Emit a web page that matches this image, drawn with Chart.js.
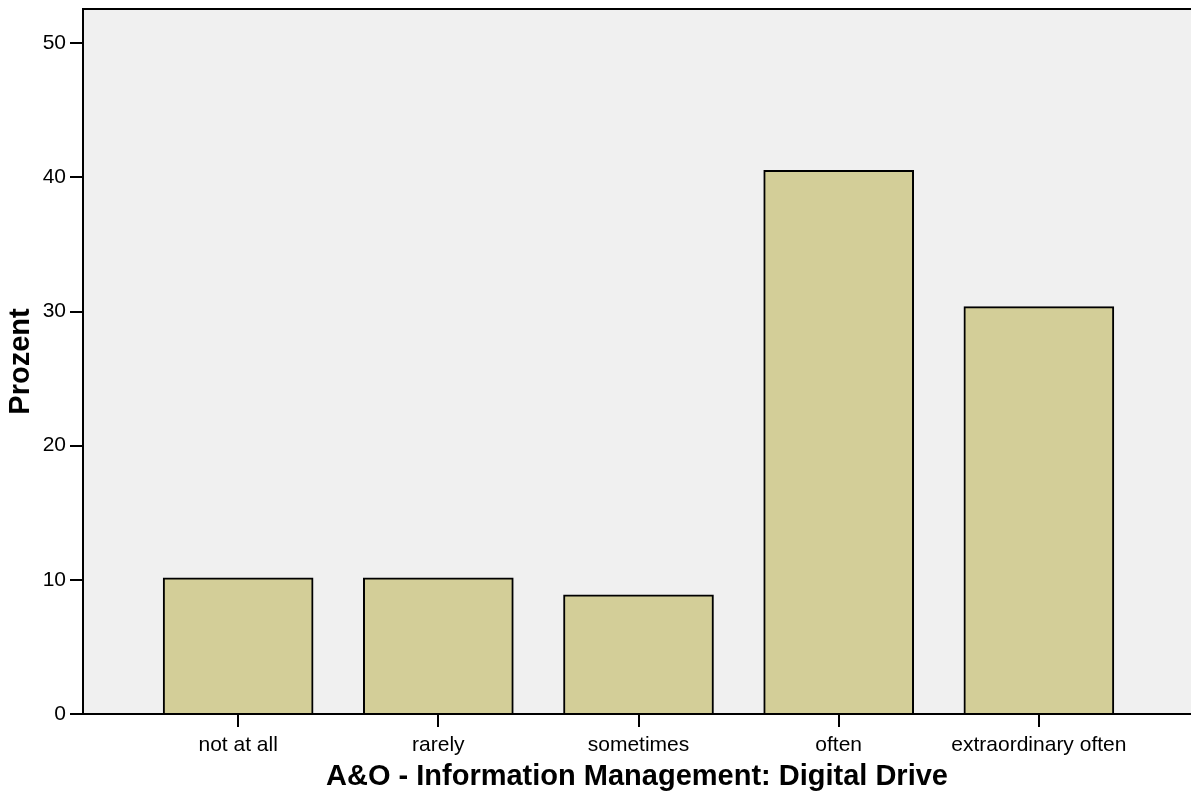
<!DOCTYPE html>
<html>
<head>
<meta charset="utf-8">
<script src="https://cdn.jsdelivr.net/npm/chart.js@4"></script>
<style>
  html, body { margin: 0; padding: 0; background: #fff; }
  #wrap { width: 1191px; height: 800px; }
</style>
</head>
<body>
<div id="wrap"><canvas id="bars" width="1191" height="800"></canvas></div>
<script>
// ---- data ----
var categories = ['not at all', 'rarely', 'sometimes', 'often', 'extraordinary often'];
var percent = [10.15, 10.15, 8.88, 40.52, 30.37];
var yTicks = [0, 10, 20, 30, 40, 50];

// bars sit on a numeric x axis so the category spacing can match the original
var points = categories.map(function (c, i) { return { x: i + 1, y: percent[i] }; });

// plot background + top frame line
var frame = {
    id: 'frame',
    beforeDraw: function (chart) {
        var a = chart.chartArea, c = chart.ctx;
        c.save();
        c.fillStyle = '#f0f0f0';
        c.fillRect(a.left, a.top, a.right - a.left, a.bottom - a.top);
        c.strokeStyle = '#000';
        c.lineWidth = 2;
        c.beginPath();
        c.moveTo(a.left, a.top);
        c.lineTo(a.right, a.top);
        c.stroke();
        c.restore();
    }
};

Chart.defaults.font.family = '"Liberation Sans", Arial, sans-serif';
Chart.defaults.color = '#000';

var ctx = document.getElementById('bars').getContext('2d');
var chart = new Chart(ctx, {
    type: 'bar',
    data: {
        datasets: [{
            label: 'Prozent',
            data: points,
            backgroundColor: '#d3ce98',
            borderColor: '#000',
            borderWidth: 2,
            barThickness: 150
        }]
    },
    options: {
        responsive: false,
        animation: false,
        layout: { padding: { top: 9, right: 0, left: 0, bottom: 0 } },
        plugins: { legend: { display: false }, tooltip: { enabled: false } },
        scales: {
            x: {
                type: 'linear',
                offset: false,
                min: 0.225,
                max: 5.76,
                afterBuildTicks: function (scale) {
                    scale.ticks = categories.map(function (c, i) { return { value: i + 1 }; });
                },
                afterFit: function (scale) {
                    scale.height = 86;
                    scale.paddingLeft = 0;
                    scale.paddingRight = 0;
                },
                ticks: {
                    autoSkip: false,
                    maxRotation: 0,
                    padding: 6,
                    font: { size: 21 },
                    callback: function (v) { return categories[v - 1]; }
                },
                grid: { offset: false, drawOnChartArea: false, drawTicks: true, tickLength: 13, color: '#000', lineWidth: 2 },
                border: { display: true, color: '#000', width: 2 },
                title: {
                    display: true,
                    text: 'A&O - Information Management: Digital Drive',
                    font: { size: 29, weight: 'bold' },
                    padding: { top: 0, bottom: 6 }
                }
            },
            y: {
                min: 0,
                max: 52.55,
                afterBuildTicks: function (scale) {
                    scale.ticks = yTicks.map(function (v) { return { value: v }; });
                },
                afterFit: function (scale) {
                    scale.width = 83;
                    scale.paddingTop = 0;
                    scale.paddingBottom = 0;
                },
                ticks: { padding: 4, font: { size: 21 } },
                grid: { drawOnChartArea: false, drawTicks: true, tickLength: 13, color: '#000', lineWidth: 2 },
                border: { display: true, color: '#000', width: 2 },
                title: {
                    display: true,
                    text: 'Prozent',
                    font: { size: 29, weight: 'bold' },
                    padding: { top: 4, bottom: 0 }
                }
            }
        }
    },
    plugins: [frame]
});
</script>
</body>
</html>
